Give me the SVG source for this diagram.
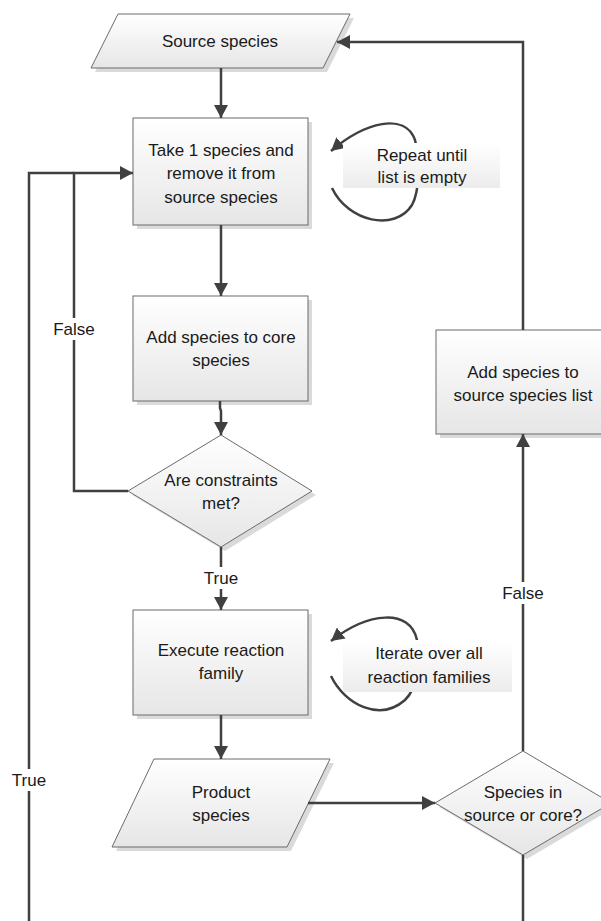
<svg xmlns="http://www.w3.org/2000/svg" width="601" height="921" viewBox="0 0 601 921">
<style>
.shape{fill:url(#g);stroke:#6b6b6b;stroke-width:1}
.shadow{fill:#dadada;stroke:none}
.t{font-family:"Liberation Sans",Arial,sans-serif;font-size:17px;fill:#1a1a1a;text-anchor:middle;dominant-baseline:central}
.c{fill:none;stroke:#404040;stroke-width:2.5}
.lbl{fill:#ffffff;stroke:none}
.lbg{fill:url(#lg);stroke:none}
</style>
<defs>
<linearGradient id="g" x1="0" y1="0" x2="0" y2="1">
<stop offset="0" stop-color="#ffffff"/>
<stop offset="1" stop-color="#e6e6e6"/>
</linearGradient>
<linearGradient id="lg" x1="0" y1="0" x2="0" y2="1">
<stop offset="0" stop-color="#ffffff"/>
<stop offset="1" stop-color="#ececec"/>
</linearGradient>
<marker id="a" markerUnits="userSpaceOnUse" markerWidth="14" markerHeight="14" refX="13" refY="7" orient="auto">
<path d="M0,0 L13,7 L0,14 z" fill="#404040"/>
</marker>
</defs>
<rect width="601" height="921" fill="#ffffff"/>

<g id="source-species">
<polygon class="shadow" points="122,18 354,18 327,72 95,72"/>
<polygon class="shape" points="118,14 350,14 323,68 91,68"/>
<text class="t" x="220" y="41">Source species</text>
</g>

<g id="take-species">
<rect class="shadow" x="137" y="122" width="175" height="107"/>
<rect class="shape" x="133" y="118" width="175" height="107"/>
<text class="t" x="221" y="150">Take 1 species and</text>
<text class="t" x="221" y="173">remove it from</text>
<text class="t" x="221" y="197">source species</text>
</g>

<g id="add-core">
<rect class="shadow" x="137" y="300" width="175" height="105"/>
<rect class="shape" x="133" y="296" width="175" height="105"/>
<text class="t" x="221" y="337">Add species to core</text>
<text class="t" x="221" y="360">species</text>
</g>

<g id="constraints">
<polygon class="shadow" points="225,439 316,495 225,551 132,495"/>
<polygon class="shape" points="221,435 312,491 221,547 128,491"/>
<text class="t" x="221" y="480">Are constraints</text>
<text class="t" x="221" y="503">met?</text>
</g>

<g id="execute">
<rect class="shadow" x="137" y="614" width="175" height="105"/>
<rect class="shape" x="133" y="610" width="175" height="105"/>
<text class="t" x="221" y="650">Execute reaction</text>
<text class="t" x="221" y="673">family</text>
</g>

<g id="product-species">
<polygon class="shadow" points="158,763 334,763 291,851 116,851"/>
<polygon class="shape" points="154,759 330,759 287,847 112,847"/>
<text class="t" x="221" y="792">Product</text>
<text class="t" x="221" y="815">species</text>
</g>

<g id="in-source-or-core">
<polygon class="shadow" points="527,755 615,807 527,859 439,807"/>
<polygon class="shape" points="523,751 611,803 523,855 435,803"/>
<text class="t" x="523" y="792">Species in</text>
<text class="t" x="523" y="815">source or core?</text>
</g>

<g id="add-source">
<rect class="shadow" x="440" y="334" width="175" height="104"/>
<rect class="shape" x="436" y="330" width="175" height="104"/>
<text class="t" x="523" y="372">Add species to</text>
<text class="t" x="523" y="395">source species list</text>
</g>

<g id="connectors">
<path class="c" d="M221,68 L221,118" marker-end="url(#a)"/>
<path class="c" d="M221,225 L221,296" marker-end="url(#a)"/>
<path class="c" d="M220,401 L220,408 L221,411 L221,435" marker-end="url(#a)"/>
<path class="c" d="M128,491 L74,491 L74,173 L133,173" marker-end="url(#a)"/>
<path class="c" d="M29,921 L29,173 L74,173"/>
<path class="c" d="M221,547 L221,610" marker-end="url(#a)"/>
<path class="c" d="M221,715 L221,759" marker-end="url(#a)"/>
<path class="c" d="M308,803 L435,803" marker-end="url(#a)"/>
<path class="c" d="M523,751 L523,434" marker-end="url(#a)"/>
<path class="c" d="M523,330 L523,42 L337,42" marker-end="url(#a)"/>
<path class="c" d="M523,855 L523,921"/>
<path class="c" d="M332,188 C348,222 395,232 412,205 C420,190 420,160 415,140 C405,112 365,122 331,151" marker-end="url(#a)"/>
<path class="c" d="M331,676 C345,705 380,722 405,700 C418,688 420,660 417,640 C410,608 368,612 331,641" marker-end="url(#a)"/>
</g>

<g id="labels">
<rect class="lbl" x="52" y="318" width="44" height="22"/>
<text class="t" x="74" y="329">False</text>
<rect class="lbl" x="11" y="769" width="36" height="22"/>
<text class="t" x="29" y="780">True</text>
<rect class="lbl" x="203" y="567" width="36" height="22"/>
<text class="t" x="221" y="578">True</text>
<rect class="lbl" x="501" y="582" width="44" height="22"/>
<text class="t" x="523" y="593">False</text>
<rect class="lbg" x="343" y="143" width="157" height="45"/>
<text class="t" x="422" y="155">Repeat until</text>
<text class="t" x="422" y="177">list is empty</text>
<rect class="lbg" x="343" y="640" width="169" height="52"/>
<text class="t" x="429" y="653">Iterate over all</text>
<text class="t" x="429" y="677">reaction families</text>
</g>
</svg>
